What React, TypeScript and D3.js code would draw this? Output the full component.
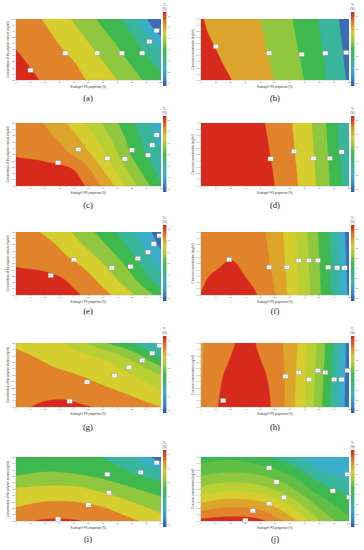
import React from "react";
import * as d3 from "d3";

// ---------- palette of contour bands ----------
const COLORS: Record<string, string> = {
  blue: "#3c6cb4",
  cyan: "#3aaec8",
  teal: "#38b59c",
  green: "#3eb94f",
  green2: "#62bf45",
  lgreen: "#8fc73e",
  ygreen: "#b8d034",
  yellow: "#d6cd2e",
  gold: "#dca42b",
  orange: "#e0832a",
  red: "#d8291d",
};

// ---------- shared axis data ----------
const xTickValues = [0, 10, 20, 30, 40, 50, 60, 70, 80, 90, 100];
const yTicksPolymer = [10, 14, 18, 22, 26, 30, 34, 38, 42, 46, 50];
const yTicksCurcumin = [0, 0.1, 0.2, 0.3, 0.4, 0.5, 0.6, 0.7, 0.8, 0.9, 1];
const yDomainPolymer: [number, number] = [10, 50];
const yDomainCurcumin: [number, number] = [0, 1];
const xTitle = "Eudragit® FS proportion (%)";
const yTitlePolymer = "Concentration of the polymer mixture (mg/ml)";
const yTitleCurcumin = "Curcumin concentration (mg/ml)";
const panelLabels = ["(a)", "(b)", "(c)", "(d)", "(e)", "(f)", "(g)", "(h)", "(i)", "(j)"];
const responseNames = ["Y₁", "Y₁", "Y₂", "Y₂", "Y₃", "Y₃", "Y₄", "Y₄", "Y₅", "Y₅"];

// ---------- response grids (band units), rows bottom -> top, columns 0% -> 100% ----------
const bandsA = ["blue", "cyan", "teal", "green", "lgreen", "yellow", "orange", "red"];
const gridA = [
  [7.47, 6.88, 6.29, 5.5, 4.41, 3.24],
  [7.24, 6.65, 6.06, 5.1, 3.94, 2.69],
  [7.0, 6.41, 5.7, 4.65, 3.47, 2.08],
  [6.76, 6.18, 5.3, 4.18, 3.0, 0.83],
  [6.53, 5.9, 4.88, 3.71, 2.38, -0.5],
];
const markersA = [[10, 16.4], [34, 27.6], [56, 27.6], [73, 27.6], [87, 27.6], [92, 35.2], [97, 42.4]];
const cbA = [10, 20, 30, 40, 50, 60, 70];

const bandsB = ["blue", "teal", "green", "lgreen", "gold", "red"];
const gridB = [
  [5.65, 5.02, 4.35, 3.53, 2.33, 0.85],
  [5.45, 4.85, 4.24, 3.4, 2.23, 0.76],
  [5.28, 4.72, 4.15, 3.29, 2.13, 0.67],
  [5.13, 4.61, 4.08, 3.19, 2.03, 0.59],
  [5.05, 4.5, 4.0, 3.09, 1.93, 0.5],
];
const markersB = [[10, 0.55], [46, 0.44], [68, 0.42], [84, 0.44], [98, 0.45]];
const cbB = [10, 20, 30, 40, 50, 60];

const bandsC = ["cyan", "teal", "green", "lgreen", "ygreen", "yellow", "gold", "orange", "red"];
const gridC = [
  [8.6, 8.65, 8.45, 6.9, 4.43, 2.1],
  [8.3, 8.35, 8.0, 6.0, 3.6, 1.5],
  [7.95, 7.7, 6.9, 5.2, 2.9, 1.2],
  [7.6, 7.3, 6.27, 4.55, 2.54, 0.6],
  [7.5, 6.93, 5.6, 3.9, 2.14, 0.5],
];
const markersC = [[29, 24.8], [43, 33.2], [63, 27.6], [75, 27.2], [80, 32.8], [91, 29.6], [94, 36], [97, 42.4]];
const cbC = [20, 30, 40, 50, 60, 70, 80];

const bandsD = ["teal", "green", "lgreen", "yellow", "orange", "red"];
const gridD = [
  [7.5, 6.5, 5.5, 4.39, 2.78, 0.43],
  [7.43, 6.43, 5.43, 4.32, 2.71, 0.33],
  [7.34, 6.34, 5.34, 4.23, 2.64, 0.21],
  [7.25, 6.25, 5.25, 4.17, 2.57, 0.1],
  [7.15, 6.15, 5.15, 4.1, 2.5, 0.0],
];
const markersD = [[47, 0.43], [63, 0.55], [76, 0.44], [87, 0.44], [95, 0.54]];
const cbD = [20, 30, 40, 50, 60, 70];

const bandsE = ["blue", "cyan", "teal", "green", "lgreen", "yellow", "orange", "red"];
const gridE = [
  [7.5, 7.4, 7.15, 6.3, 5.13, 3.6],
  [7.4, 7.3, 6.75, 5.65, 4.2, 2.3],
  [6.9, 6.65, 6.1, 5.0, 3.5, 1.6],
  [6.75, 6.4, 5.45, 4.27, 2.75, 0.9],
  [6.6, 5.85, 4.9, 3.6, 2.15, 0.4],
];
const markersE = [[24, 22.4], [40, 32.4], [66, 27.2], [79, 28], [84, 33.2], [91, 37.2], [95, 42.4], [99, 47.6]];
const cbE = [20, 30, 40, 50, 60, 70, 80];

const bandsF = ["blue", "cyan", "teal", "green", "lgreen", "ygreen", "yellow", "gold", "orange", "red"];
const gridF = [
  [9.05, 9.5, 9.7, 9.4, 8.85, 8.0, 6.75, 5.5, 4.14, 2.67, 0.8],
  [8.8, 9.25, 9.45, 9.05, 8.6, 7.85, 6.7, 5.44, 4.07, 2.6, 0.7],
  [8.55, 8.8, 9.08, 8.75, 8.4, 7.7, 6.63, 5.38, 4.0, 2.67, 0.6],
  [8.4, 8.55, 8.7, 8.55, 8.3, 7.6, 6.56, 5.31, 3.93, 2.58, 0.5],
  [8.3, 8.4, 8.5, 8.4, 8.2, 7.5, 6.5, 5.25, 3.86, 2.5, 0.4],
];
const markersF = [[19, 0.56], [46, 0.44], [58, 0.44], [66, 0.55], [73, 0.55], [79, 0.55], [86, 0.44], [92, 0.43], [97, 0.43]];
const cbF = [10, 20, 30, 40, 50, 60, 70, 80];

const bandsG = ["cyan", "teal", "green", "lgreen", "ygreen", "yellow", "orange", "red"];
const gridG = [
  [6.85, 7.1, 7.1, 6.9, 6.5, 6.0],
  [6.65, 6.8, 6.75, 6.25, 5.75, 5.05],
  [6.5, 6.3, 6.05, 5.55, 5.0, 4.0],
  [6.3, 5.9, 5.45, 5.0, 3.85, 2.1],
  [5.8, 5.4, 4.65, 3.15, 2.0, 0.3],
];
const markersG = [[37, 13.6], [49, 25.6], [68, 29.6], [78, 34.8], [87, 39.2], [94, 43.6], [99, 48.4]];
const cbG = [20, 30, 40, 50, 60, 70];

const bandsH = ["blue", "cyan", "teal", "green", "lgreen", "ygreen", "yellow", "gold", "orange", "red"];
const gridH = [
  [7.95, 8.9, 9.25, 9.35, 9.25, 8.8, 7.5, 6.0, 4.33, 2.4, 0.4],
  [7.95, 8.85, 9.2, 9.35, 9.2, 8.75, 7.5, 6.05, 4.4, 2.5, 0.4],
  [7.92, 8.75, 9.15, 9.3, 9.15, 8.65, 7.55, 6.1, 4.5, 2.6, 0.45],
  [7.9, 8.55, 9.02, 9.25, 9.0, 8.45, 7.58, 6.2, 4.6, 2.7, 0.5],
  [7.9, 8.4, 8.86, 9.2, 8.84, 8.32, 7.6, 6.33, 4.67, 2.8, 0.5],
];
const markersH = [[15, 0.1], [57, 0.48], [66, 0.54], [73, 0.43], [79, 0.57], [84, 0.54], [90, 0.43], [95, 0.43], [99, 0.57]];
const cbH = [10, 20, 30, 40, 50, 60, 70, 80];

const bandsI = ["blue", "cyan", "teal", "green", "lgreen", "yellow", "orange", "red"];
const gridI = [
  [6.75, 7.1, 7.07, 6.7, 6.15, 5.45],
  [5.87, 6.19, 6.18, 5.87, 5.2, 4.5],
  [5.06, 5.23, 5.2, 4.74, 4.1, 3.5],
  [3.85, 4.05, 3.96, 3.6, 3.0, 2.3],
  [3.4, 3.6, 3.5, 2.95, 2.2, 0.3],
];
const markersI = [[29, 11.2], [50, 20], [64, 27.6], [63, 39.2], [86, 40.4], [97, 46.4]];
const cbI = [20, 30, 40, 50, 60, 70];

const bandsJ = ["cyan", "teal", "green", "green2", "lgreen", "ygreen", "yellow", "gold", "orange", "red"];
const gridJ = [
  [9.3, 9.45, 9.2, 7.55, 5.0, 3.2],
  [7.27, 7.75, 7.42, 5.87, 3.75, 2.35],
  [5.3, 5.77, 5.4, 4.25, 2.5, 1.6],
  [3.75, 4.06, 3.78, 2.83, 1.25, 0.6],
  [2.5, 2.75, 2.25, 1.35, 0.0, -0.4],
];
const markersJ = [[30, 0.01], [35, 0.16], [46, 0.27], [56, 0.37], [51, 0.61], [46, 0.83], [89, 0.47], [99, 0.73], [100, 0.37]];
const cbJ = [10, 20, 30, 40, 50, 60, 70, 80];

// marker labels (run numbers)
const markerLabels = ["1", "2", "3", "4", "5", "6", "7", "8", "9"];

// ---------- layout ----------
const ROWS = [
  { y0: 19, y1: 80, label: 101 },
  { y0: 123, y1: 186, label: 208 },
  { y0: 232, y1: 295, label: 314 },
  { y0: 343, y1: 407, label: 430 },
  { y0: 457, y1: 521, label: 542 },
];
const COLS = [
  { x0: 16, x1: 161, bar: 163, labelX: 88 },
  { x0: 201, x1: 349, bar: 351, labelX: 275 },
];

const panels = [
  { grid: gridA, bands: bandsA, markers: markersA, cb: cbA },
  { grid: gridB, bands: bandsB, markers: markersB, cb: cbB },
  { grid: gridC, bands: bandsC, markers: markersC, cb: cbC },
  { grid: gridD, bands: bandsD, markers: markersD, cb: cbD },
  { grid: gridE, bands: bandsE, markers: markersE, cb: cbE },
  { grid: gridF, bands: bandsF, markers: markersF, cb: cbF },
  { grid: gridG, bands: bandsG, markers: markersG, cb: cbG },
  { grid: gridH, bands: bandsH, markers: markersH, cb: cbH },
  { grid: gridI, bands: bandsI, markers: markersI, cb: cbI },
  { grid: gridJ, bands: bandsJ, markers: markersJ, cb: cbJ },
];

// Catmull-Rom sampling of a row of values at fractional index u
function cr1(a: number[], u: number) {
  const n = a.length;
  let i = Math.floor(u);
  if (i > n - 2) i = n - 2;
  if (i < 0) i = 0;
  const t = u - i;
  const p1 = a[i], p2 = a[i + 1];
  const p0 = i > 0 ? a[i - 1] : 2 * p1 - p2;
  const p3 = i + 2 < n ? a[i + 2] : 2 * p2 - p1;
  return 0.5 * (2 * p1 + (-p0 + p2) * t + (2 * p0 - 5 * p1 + 4 * p2 - p3) * t * t + (-p0 + 3 * p1 - 3 * p2 + p3) * t * t * t);
}

function buildField(grid: number[][], nx: number, ny: number) {
  const R = grid.length, C = grid[0].length;
  const out = new Array(nx * ny);
  for (let j = 0; j < ny; j++) {
    const yf = 1 - (j + 0.5) / ny;
    const gy = yf * (R - 1);
    for (let i = 0; i < nx; i++) {
      const xf = (i + 0.5) / nx;
      const gx = xf * (C - 1);
      const col = grid.map((row) => cr1(row, gx));
      out[i + j * nx] = cr1(col, gy);
    }
  }
  return out;
}

const FONT = "'Liberation Sans', Arial, sans-serif";

function Panel({ idx }: { idx: number }) {
  const p = panels[idx];
  const row = ROWS[Math.floor(idx / 2)];
  const col = COLS[idx % 2];
  const isLeft = idx % 2 === 0;
  const { x0, x1, bar } = col;
  const { y0, y1 } = row;
  const w = x1 - x0, h = y1 - y0;
  const nx = Math.round(w * 1.6), ny = Math.round(h * 1.6);
  const field = buildField(p.grid, nx, ny);
  const thresholds = d3.range(1, p.bands.length);
  const contours = d3.contours().size([nx, ny]).thresholds(thresholds)(field);
  const gx = d3.scaleLinear().domain([0, nx]).range([x0, x1]);
  const gy = d3.scaleLinear().domain([0, ny]).range([y0, y1]);
  const path = d3.geoPath(
    d3.geoTransform({
      point(x: number, y: number) {
        (this as any).stream.point(gx(x), gy(y));
      },
    })
  );
  const xs = d3.scaleLinear().domain([0, 100]).range([x0, x1]);
  const yDom = isLeft ? yDomainPolymer : yDomainCurcumin;
  const ys = d3.scaleLinear().domain(yDom).range([y1, y0]);
  const yTicks = isLeft ? yTicksPolymer : yTicksCurcumin;
  const clipId = `clip${idx}`;
  const barTop = y0 - 7, barBot = y1 + 6;
  const cbScale = d3.scaleLinear().domain([p.cb[0], p.cb[p.cb.length - 1]]).range([barBot - 3, barTop + 4]);
  return (
    <g>
      <defs>
        <clipPath id={clipId}>
          <rect x={x0} y={y0} width={w} height={h} />
        </clipPath>
      </defs>
      <g clipPath={`url(#${clipId})`}>
        <rect x={x0} y={y0} width={w} height={h} fill={COLORS[p.bands[0]]} />
        {contours.map((c, k) => (
          <path key={k} d={path(c as any) || ""} fill={COLORS[p.bands[c.value]]} stroke={COLORS[p.bands[c.value]]} strokeWidth={0.3} />
        ))}
      </g>
      {/* axes */}
      <line x1={x0} x2={x1} y1={y1 + 0.3} y2={y1 + 0.3} stroke="#999" strokeWidth={0.3} />
      <line x1={x0 - 0.3} x2={x0 - 0.3} y1={y0} y2={y1} stroke="#999" strokeWidth={0.3} />
      {xTickValues.map((t) => (
        <g key={"x" + t}>
          <line x1={xs(t)} x2={xs(t)} y1={y1} y2={y1 + 1} stroke="#777" strokeWidth={0.3} />
          <text x={xs(t)} y={y1 + 3.4} fontSize={2.1} textAnchor="middle" fill="#444" fontFamily={FONT}>{t}</text>
        </g>
      ))}
      {yTicks.map((t) => (
        <g key={"y" + t}>
          <line x1={x0 - 1} x2={x0} y1={ys(t)} y2={ys(t)} stroke="#777" strokeWidth={0.3} />
          <text x={x0 - 1.5} y={ys(t) + 0.7} fontSize={2.1} textAnchor="end" fill="#444" fontFamily={FONT}>{isLeft ? t : d3.format(".1f")(t)}</text>
        </g>
      ))}
      <text x={(x0 + x1) / 2} y={y1 + 7.6} fontSize={2.8} textAnchor="middle" fill="#333" fontFamily={FONT}>{xTitle}</text>
      <text transform={`translate(${x0 - 7.5},${(y0 + y1) / 2}) rotate(-90)`} fontSize={2.8} textAnchor="middle" fill="#333" fontFamily={FONT}>
        {isLeft ? yTitlePolymer : yTitleCurcumin}
      </text>
      {/* markers */}
      {p.markers.map((m, k) => (
        <g key={"m" + k}>
          <rect x={xs(m[0]) - 2.6} y={ys(m[1]) - 2.1} width={5.2} height={4.2} fill="#fff" stroke="#888" strokeWidth={0.35} />
          <text x={xs(m[0])} y={ys(m[1]) + 0.8} fontSize={2.1} textAnchor="middle" fill="#555" fontFamily={FONT}>{markerLabels[k]}</text>
        </g>
      ))}
      {/* colour bar */}
      <rect x={bar} y={barTop} width={3.4} height={barBot - barTop} fill="url(#jet)" />
      {p.cb.map((t) => (
        <g key={"c" + t}>
          <line x1={bar + 3.4} x2={bar + 4.3} y1={cbScale(t)} y2={cbScale(t)} stroke="#777" strokeWidth={0.3} />
          <text x={bar + 4.8} y={cbScale(t) + 0.7} fontSize={2} fill="#555" fontFamily={FONT}>{t}</text>
        </g>
      ))}
      <text x={bar + 1.7} y={barTop - 6.5} fontSize={3} textAnchor="middle" fill="#333" fontFamily={FONT}>{responseNames[idx]}</text>
      <text x={bar + 1.7} y={barTop - 2} fontSize={3} textAnchor="middle" fill="#333" fontFamily={FONT}>(%)</text>
      {/* panel label */}
      <text x={col.labelX} y={row.label} fontSize={8.5} textAnchor="middle" fill="#111" fontFamily="'Liberation Serif', 'Times New Roman', serif">
        {panelLabels[idx]}
      </text>
    </g>
  );
}

export default function App() {
  return (
    <svg width={364} height={550} viewBox="0 0 364 550" style={{ position: "absolute", left: 0, top: 0, background: "#fff" }}>
      <defs>
        <linearGradient id="jet" x1="0" y1="1" x2="0" y2="0">
          <stop offset="0" stopColor="#2c5aa8" />
          <stop offset="0.12" stopColor="#3a8fd0" />
          <stop offset="0.25" stopColor="#38b1c4" />
          <stop offset="0.38" stopColor="#39b77e" />
          <stop offset="0.5" stopColor="#40ba4a" />
          <stop offset="0.62" stopColor="#9acb3b" />
          <stop offset="0.72" stopColor="#d4cd2e" />
          <stop offset="0.84" stopColor="#e08a2b" />
          <stop offset="1" stopColor="#d7231b" />
        </linearGradient>
      </defs>
      <rect x={0} y={0} width={364} height={550} fill="#fff" />
      {panels.map((_, i) => (
        <Panel key={i} idx={i} />
      ))}
    </svg>
  );
}
